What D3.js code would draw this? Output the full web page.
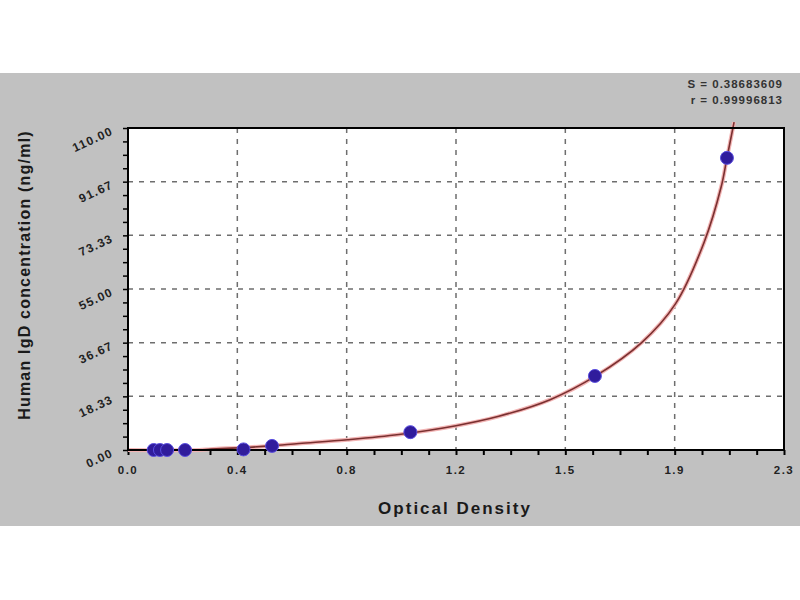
<!DOCTYPE html>
<html lang="en">
<head>
    <meta charset="UTF-8">
    <title>Human IgD standard curve</title>
    <script src="https://d3js.org/d3.v7.min.js"></script>
    <style>
        body {
            margin: 0;
            background: #ffffff;
            font-family: Arial, "Liberation Sans", sans-serif;
        }
        #chart {
            width: 800px;
            height: 600px;
        }
    </style>
</head>
<body>
<div id="chart"></div>
<script>
    // standards
    const odValues = [0.09, 0.112, 0.137, 0.2, 0.405, 0.505, 0.99, 1.637, 2.1];
    const concValues = [0, 0, 0, 0, 0.2, 1.4, 6.1, 25.3, 99.8];

    // fitted curve, points
    const curveOD = [0.0, 0.25, 0.29, 0.4, 0.5, 0.6, 0.77, 0.95, 1.15, 1.3, 1.48, 1.64, 1.8, 1.92, 2.02, 2.08, 2.1, 2.125];
    const curveConc = [0, 0, 0.3, 0.8, 1.4, 2.2, 3.5, 5.3, 8.3, 11.5, 17.2, 25.3, 36.6, 50, 71, 90, 99.8, 112];

    const yTicks = [0, 18.33, 36.67, 55, 73.33, 91.67, 110];
    const xTicks = [0, 0.3833, 0.7667, 1.15, 1.5333, 1.9167, 2.3];
    const xTickLabels = ["0.0", "0.4", "0.8", "1.2", "1.5", "1.9", "2.3"];
    const statLines = ["S = 0.38683609", "r = 0.99996813"];

    const width = 800, height = 600;
    const plot = {left: 128, right: 784, top: 128, bottom: 450};

    const svg = d3.select("#chart")
        .append("svg")
        .attr("width", width)
        .attr("height", height);

    // grey panel behind the chart
    svg.append("rect")
        .attr("x", 0)
        .attr("y", 73)
        .attr("width", width)
        .attr("height", 453)
        .attr("fill", "#c1c1c1");

    const x = d3.scaleLinear().domain([0, 2.3]).range([plot.left, plot.right]);
    const y = d3.scaleLinear().domain([0, 110]).range([plot.bottom, plot.top]);

    svg.append("rect")
        .attr("x", plot.left)
        .attr("y", plot.top)
        .attr("width", plot.right - plot.left)
        .attr("height", plot.bottom - plot.top)
        .attr("fill", "#ffffff");

    // dashed grid
    const grid = svg.append("g")
        .attr("stroke", "#6e6e6e")
        .attr("stroke-width", 1.5)
        .attr("stroke-dasharray", "5,6");

    grid.selectAll(".gx")
        .data(xTicks.slice(1, -1))
        .join("line")
        .attr("x1", d => x(d)).attr("x2", d => x(d))
        .attr("y1", plot.top).attr("y2", plot.bottom);

    grid.selectAll(".gy")
        .data(yTicks.slice(1, -1))
        .join("line")
        .attr("x1", plot.left).attr("x2", plot.right)
        .attr("y1", d => y(d)).attr("y2", d => y(d));

    // minor ticks: 3 between each pair of majors
    function withMinors(ticks) {
        const out = [];
        for (let i = 0; i < ticks.length - 1; i++) {
            const step = (ticks[i + 1] - ticks[i]) / 4;
            for (let k = 0; k < 4; k++) out.push(ticks[i] + k * step);
        }
        out.push(ticks[ticks.length - 1]);
        return out;
    }

    const xAxis = svg.append("g")
        .attr("transform", `translate(0,${plot.bottom})`)
        .call(d3.axisBottom(x).tickValues(withMinors(xTicks)).tickSize(5).tickFormat(""));
    xAxis.select(".domain").remove();
    xAxis.selectAll("line").attr("stroke", "#000").attr("stroke-width", 2);

    const yAxis = svg.append("g")
        .attr("transform", `translate(${plot.left},0)`)
        .call(d3.axisLeft(y).tickValues(withMinors(yTicks)).tickSize(5).tickFormat(""));
    yAxis.select(".domain").remove();
    yAxis.selectAll("line").attr("stroke", "#000").attr("stroke-width", 1.5);

    svg.append("g")
        .selectAll("text")
        .data(xTicks)
        .join("text")
        .attr("x", d => x(d))
        .attr("y", 474)
        .attr("text-anchor", "middle")
        .attr("font-size", 11.5)
        .attr("font-weight", "bold")
        .attr("letter-spacing", 1.5)
        .attr("fill", "#222")
        .text((d, i) => xTickLabels[i]);

    svg.append("g")
        .selectAll("text")
        .data(yTicks)
        .join("text")
        .attr("transform", d => `translate(${plot.left - 14},${y(d) + 6}) rotate(-25)`)
        .attr("text-anchor", "end")
        .attr("font-size", 12)
        .attr("font-weight", "bold")
        .attr("letter-spacing", 1.2)
        .attr("fill", "#222")
        .text(d => d.toFixed(2));

    // fitted curve
    const curveData = curveOD.map((d, i) => ({od: d, conc: curveConc[i]}));
    const line = d3.line()
        .x(d => x(d.od))
        .y(d => y(d.conc))
        .curve(d3.curveCatmullRom.alpha(0.5));

    svg.append("path")
        .datum(curveData)
        .attr("fill", "none")
        .attr("stroke", "#f2b4b4")
        .attr("stroke-width", 4)
        .attr("d", line);

    svg.append("path")
        .datum(curveData)
        .attr("fill", "none")
        .attr("stroke", "#7a3030")
        .attr("stroke-width", 1.6)
        .attr("d", line);

    // frame
    svg.append("rect")
        .attr("x", plot.left)
        .attr("y", plot.top)
        .attr("width", plot.right - plot.left)
        .attr("height", plot.bottom - plot.top)
        .attr("fill", "none")
        .attr("stroke", "#000")
        .attr("stroke-width", 2);

    // standard points
    svg.append("g")
        .selectAll("circle")
        .data(odValues)
        .join("circle")
        .attr("cx", d => x(d))
        .attr("cy", (d, i) => y(concValues[i]))
        .attr("r", 6.5)
        .attr("fill", "#301c9c")
        .attr("stroke", "#5a4ee0")
        .attr("stroke-width", 1);

    svg.append("text")
        .attr("x", 455)
        .attr("y", 514)
        .attr("text-anchor", "middle")
        .attr("font-size", 17)
        .attr("font-weight", "bold")
        .attr("letter-spacing", 2)
        .attr("fill", "#1a1a1a")
        .text("Optical Density");

    svg.append("text")
        .attr("transform", "translate(30,275) rotate(-90)")
        .attr("text-anchor", "middle")
        .attr("font-size", 16)
        .attr("font-weight", "bold")
        .attr("letter-spacing", 1.2)
        .attr("fill", "#1a1a1a")
        .text("Human IgD concentration (ng/ml)");

    svg.append("g")
        .selectAll("text")
        .data(statLines)
        .join("text")
        .attr("x", 783)
        .attr("y", (d, i) => 88 + i * 16)
        .attr("text-anchor", "end")
        .attr("font-size", 11.5)
        .attr("font-weight", "bold")
        .attr("letter-spacing", 1)
        .attr("fill", "#333")
        .text(d => d);
</script>
</body>
</html>
